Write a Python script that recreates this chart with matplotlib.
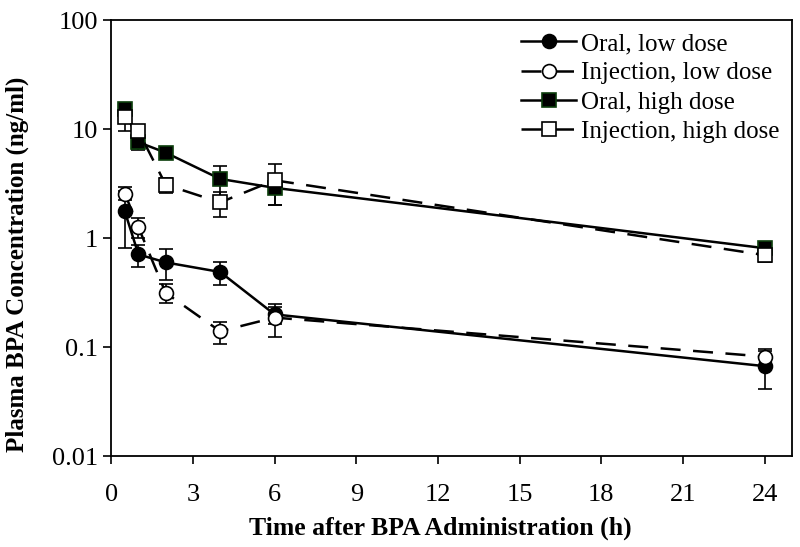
import matplotlib
matplotlib.use("Agg")
import matplotlib.pyplot as plt
import numpy as np

plt.rcParams['font.family'] = ['Liberation Serif', 'DejaVu Serif']

time = [0.5, 1, 2, 4, 6, 24]

oral_low = [1.76, 0.71, 0.60, 0.49, 0.20, 0.067]
oral_low_err = [0.95, 0.16, 0.19, 0.12, 0.035, 0.026]

inj_low = [2.57, 1.26, 0.315, 0.14, 0.187, 0.082]
inj_low_err = [0.35, 0.26, 0.062, 0.032, 0.062, 0.015]

oral_high = [15.3, 7.6, 6.1, 3.5, 2.9, 0.81]
oral_high_err = [1.2, 1.2, 0.6, 1.1, 0.9, 0.11]

inj_high = [12.9, 9.6, 3.1, 2.13, 3.4, 0.70]
inj_high_err = [3.3, 1.0, 0.5, 0.55, 1.4, 0.10]

labels = ['Oral, low dose', 'Injection, low dose', 'Oral, high dose', 'Injection, high dose']

fig = plt.figure(figsize=(8, 5.47), dpi=100)
ax = fig.add_axes([0.139, 0.166, 0.851, 0.797])

lw = 1.8
ms = 10
dash = (8, 5)

series = [
    (oral_low, oral_low_err, 'o', 'black', 'black', '-'),
    (inj_low, inj_low_err, 'o', 'white', 'black', '--'),
    (oral_high, oral_high_err, 's', 'black', '#0b3d0b', '-'),
    (inj_high, inj_high_err, 's', 'white', 'black', '--'),
]

handles = []
for (vals, err, mk, fc, ec, ls), lab in zip(series, labels):
    ax.errorbar(time, vals, yerr=err, fmt='none', ecolor='black',
                elinewidth=1.2, capsize=5, capthick=1.2, zorder=2)
    line, = ax.plot(time, vals, linestyle=ls, color='black', lw=lw,
                    marker=mk, markersize=ms, markerfacecolor=fc,
                    markeredgecolor=ec, markeredgewidth=1.2, label=lab, zorder=3)
    if ls == '--':
        line.set_dashes(dash)
    handles.append(line)

ax.set_yscale('log')
ax.set_ylim(0.01, 100)
ax.set_xlim(0, 25)
ax.set_xticks(np.arange(0, 25, 3))
ax.set_yticks([0.01, 0.1, 1, 10, 100])
ax.set_yticklabels(['0.01', '0.1', '1', '10', '100'])
ax.yaxis.set_minor_locator(matplotlib.ticker.NullLocator())
ax.tick_params(axis='both', which='major', direction='out', length=6, width=1.2,
               labelsize=19, top=False, right=False)
ax.tick_params(axis='x', pad=14)
for s in ax.spines.values():
    s.set_linewidth(1.3)

ax.set_xlabel('Time after BPA Administration (h)', fontsize=18.5, fontweight='bold', va='center')
ax.set_ylabel('Plasma BPA Concentration (ng/ml)', fontsize=18, fontweight='bold', va='center')
ax.xaxis.set_label_coords(0.483, -0.165)
ax.yaxis.set_label_coords(-0.138, 0.44)

ax.legend(handles=handles, loc='upper right', frameon=False, fontsize=18,
          handlelength=2.2, handletextpad=0.2, labelspacing=0.27,
          borderaxespad=0.3, borderpad=0.2)

fig.savefig('out.png', dpi=100)
